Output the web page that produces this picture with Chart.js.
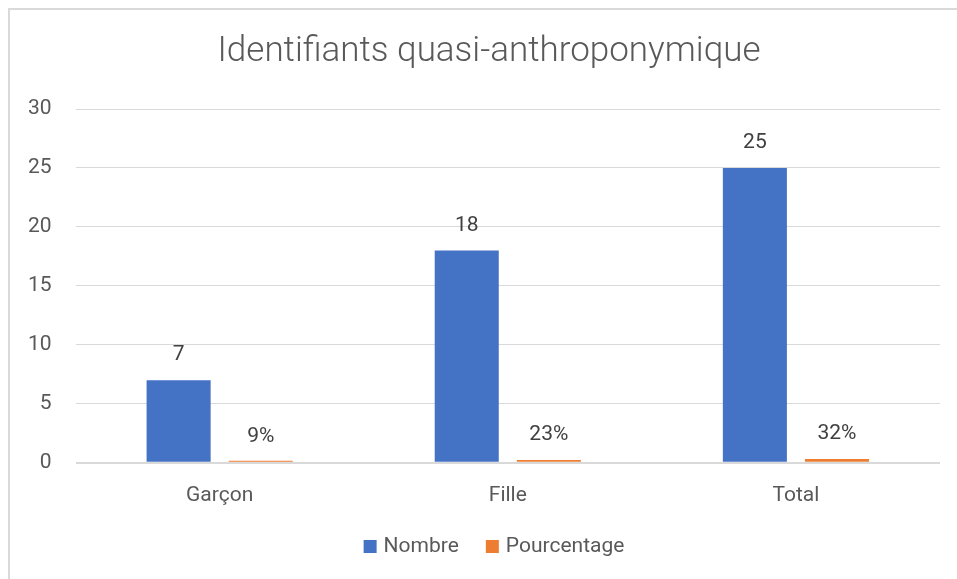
<!DOCTYPE html>
<html>
<head>
<meta charset="utf-8">
<script src="https://cdn.jsdelivr.net/npm/chart.js@4/dist/chart.umd.min.js"></script>
<style>
html,body{margin:0;padding:0;background:#fff;}
#wrap{position:absolute;left:0;top:0;width:957px;height:579px;}
#frame{position:absolute;left:8px;top:8px;width:960px;height:600px;border-top:2px solid #d9d9d9;border-left:2px solid #d9d9d9;box-sizing:border-box;}
canvas{position:absolute;left:0;top:0;}
</style>
</head>
<body>
<div id="wrap">
<div id="frame"></div>
<canvas id="c" width="957" height="579"></canvas>
</div>
<script>
const categories = ["Garçon", "Fille", "Total"];
const nombre = [7, 18, 25];
const pourcentage = [0.09, 0.23, 0.32];
const yTicks = [0, 5, 10, 15, 20, 25, 30];
const seriesNames = ["Nombre", "Pourcentage"];
const seriesColors = ["#4472C4", "#ED7D31"];
const chartTitle = "Identifiants quasi-anthroponymique";

const textColor = "#595959";

const valueLabels = {
  id: "valueLabels",
  afterDatasetsDraw(chart) {
    const ctx = chart.ctx;
    ctx.save();
    ctx.font = "21px Roboto";
    ctx.fillStyle = "#404040";
    ctx.textAlign = "center";
    ctx.textBaseline = "middle";
    chart.data.datasets.forEach((ds, di) => {
      const meta = chart.getDatasetMeta(di);
      meta.data.forEach((el, i) => {
        const v = ds.data[i];
        const txt = di === 1 ? Math.round(v * 100) + "%" : String(v);
        const top = chart.scales.y.getPixelForValue(v);
        ctx.fillText(txt, el.x, top - 25);
      });
    });
    ctx.restore();
  }
};

const titleAndLegend = {
  id: "titleAndLegend",
  afterDraw(chart) {
    const ctx = chart.ctx;
    ctx.save();
    ctx.font = "300 35px Roboto";
    ctx.fillStyle = textColor;
    ctx.textAlign = "center";
    ctx.textBaseline = "middle";
    ctx.fillText(chartTitle, 489, 52);
    ctx.font = "21px Roboto";
    const box = 13, gap = 7, itemGap = 27;
    const widths = chart.data.datasets.map(ds => ctx.measureText(ds.label).width);
    let total = 0;
    widths.forEach((w, i) => { total += box + gap + w + (i ? itemGap : 0); });
    let x = 494 - total / 2;
    const cy = 546.5;
    ctx.textAlign = "left";
    chart.data.datasets.forEach((ds, i) => {
      ctx.fillStyle = ds.backgroundColor;
      ctx.fillRect(x, cy - box / 2, box, box);
      ctx.fillStyle = textColor;
      ctx.fillText(ds.label, x + box + gap, cy);
      x += box + gap + widths[i] + itemGap;
    });
    ctx.restore();
  }
};

new Chart(document.getElementById("c"), {
  type: "bar",
  data: {
    labels: categories,
    datasets: [
      { label: seriesNames[0], data: nombre, backgroundColor: seriesColors[0], barPercentage: 0.78, categoryPercentage: 0.57 },
      { label: seriesNames[1], data: pourcentage, backgroundColor: seriesColors[1], barPercentage: 0.78, categoryPercentage: 0.57, minBarLength: 2 }
    ]
  },
  options: {
    responsive: false,
    animation: false,
    layout: { padding: { left: 4, right: 17, top: 109, bottom: 51 } },
    plugins: {
      title: { display: false },
      legend: { display: false },
      tooltip: { enabled: false }
    },
    scales: {
      x: {
        grid: { display: false, drawTicks: false },
        border: { display: false },
        ticks: { color: textColor, font: { family: "Roboto", size: 21 }, padding: 20 }
      },
      y: {
        min: 0,
        max: 30,
        afterBuildTicks(axis) { axis.ticks = yTicks.map(v => ({ value: v })); },
        grid: { color: "#d9d9d9", drawTicks: false, lineWidth: (c) => c.tick && c.tick.value === 0 ? 2 : 1 },
        border: { display: false },
        ticks: { color: textColor, font: { family: "Roboto", size: 21 }, padding: 24 }
      }
    }
  },
  plugins: [valueLabels, titleAndLegend]
});
</script>
</body>
</html>
